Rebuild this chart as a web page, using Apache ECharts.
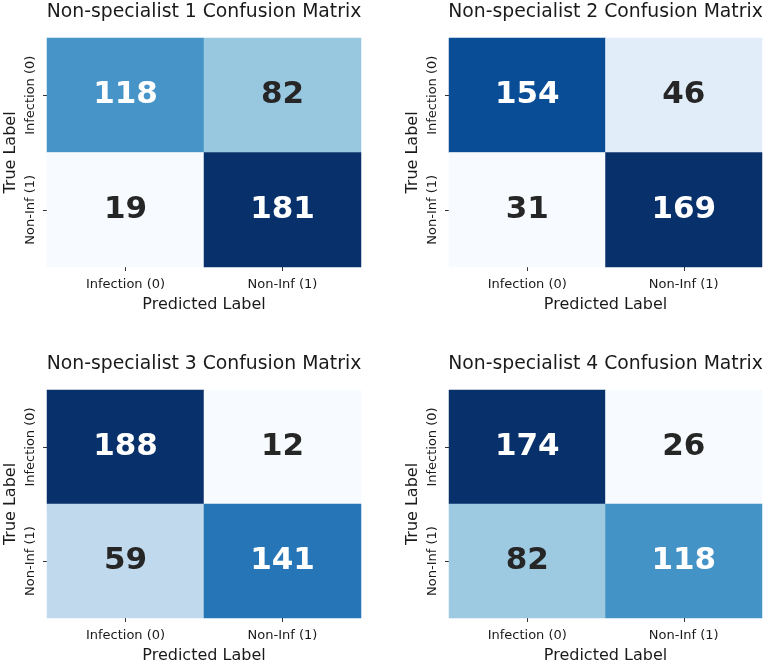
<!DOCTYPE html>
<html>
<head>
<meta charset="utf-8">
<script src="https://cdn.jsdelivr.net/npm/echarts@6/dist/echarts.min.js"></script>
<style>
html,body{margin:0;padding:0;background:#fff;}
#chart{width:767px;height:665px;}
</style>
</head>
<body>
<div id="chart"></div>
<script>
const categories = ['Infection (0)', 'Non-Inf (1)'];
const panelTitles = [
  'Non-specialist 1 Confusion Matrix',
  'Non-specialist 2 Confusion Matrix',
  'Non-specialist 3 Confusion Matrix',
  'Non-specialist 4 Confusion Matrix'
];
// rows = true label, cols = predicted label
const matrix1 = [[118, 82], [19, 181]];
const matrix2 = [[154, 46], [31, 169]];
const matrix3 = [[188, 12], [59, 141]];
const matrix4 = [[174, 26], [82, 118]];
const matrices = [matrix1, matrix2, matrix3, matrix4];

const blues = ['#f7fbff','#deebf7','#c6dbef','#9ecae1','#6baed6','#4292c6','#2171b5','#08519c','#08306b'];
const FONT = 'DejaVu Sans';

const grids = [
  {left: 47, top: 38, width: 314, height: 229},
  {left: 449, top: 38, width: 313, height: 229},
  {left: 47, top: 390, width: 314, height: 230},
  {left: 449, top: 390, width: 313, height: 230}
];
const titleTops = [3, 3, 355, 355];

const option = {
  backgroundColor: '#fff',
  animation: false,
  title: [], grid: [], xAxis: [], yAxis: [], visualMap: [], series: []
};

matrices.forEach((m, i) => {
  const g = grids[i];
  option.grid.push(g);
  option.title.push({
    text: panelTitles[i],
    left: g.left + g.width / 2,
    top: titleTops[i],
    padding: 0,
    textAlign: 'center',
    textStyle: {fontFamily: FONT, fontSize: 18.8, fontWeight: 'normal', color: '#1a1a1a'}
  });
  option.xAxis.push({
    type: 'category', gridIndex: i, data: categories,
    name: 'Predicted Label', nameLocation: 'middle', nameGap: 30,
    nameTextStyle: {fontFamily: FONT, fontSize: 16, color: '#1a1a1a'},
    axisLine: {show: false},
    axisTick: {show: true, alignWithLabel: true, length: 4, lineStyle: {color: '#333', width: 1}},
    axisLabel: {fontFamily: FONT, fontSize: 13, color: '#1a1a1a', margin: 11},
    splitArea: {show: false}, splitLine: {show: false}
  });
  option.yAxis.push({
    type: 'category', gridIndex: i, data: categories, inverse: true,
    name: 'True Label', nameLocation: 'middle', nameGap: 28,
    nameTextStyle: {fontFamily: FONT, fontSize: 16, color: '#1a1a1a'},
    axisLine: {show: false},
    axisTick: {show: true, alignWithLabel: true, length: 4, lineStyle: {color: '#333', width: 1}},
    axisLabel: {fontFamily: FONT, fontSize: 13, color: '#1a1a1a', rotate: 90, margin: 10},
    splitArea: {show: false}, splitLine: {show: false}
  });
  const vals = m.flat();
  const mn = Math.min(...vals), mx = Math.max(...vals);
  option.visualMap.push({
    show: false, seriesIndex: i, min: mn, max: mx, dimension: 2,
    inRange: {color: blues}
  });
  const data = [];
  m.forEach((row, r) => row.forEach((v, c) => {
    const t = (v - mn) / (mx - mn);
    data.push({value: [c, r, v], label: {color: t > 0.45 ? '#ffffff' : '#262626'}});
  }));
  option.series.push({
    type: 'heatmap', xAxisIndex: i, yAxisIndex: i, data: data,
    label: {show: true, fontFamily: FONT, fontSize: 31, fontWeight: 'bold',
      formatter: p => String(p.value[2])},
    itemStyle: {borderWidth: 0},
    emphasis: {disabled: true}
  });
});

const chart = echarts.init(document.getElementById('chart'), null, {renderer: 'canvas'});
chart.setOption(option);
</script>
</body>
</html>
